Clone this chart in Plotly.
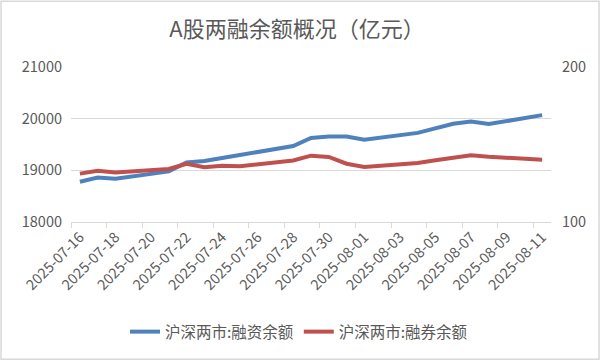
import plotly.graph_objects as go

# ---- data ----
dates = ["2025-07-16", "2025-07-17", "2025-07-18", "2025-07-21", "2025-07-22",
         "2025-07-23", "2025-07-24", "2025-07-25", "2025-07-28", "2025-07-29",
         "2025-07-30", "2025-07-31", "2025-08-01", "2025-08-04", "2025-08-05",
         "2025-08-06", "2025-08-07", "2025-08-08", "2025-08-11"]
financing = [18780, 18860, 18838, 18980, 19150, 19180, 19240, 19300, 19470, 19625,
             19655, 19655, 19592, 19725, 19804, 19900, 19945, 19895, 20068]
securities = [131.2, 133.1, 132.0, 134.2, 137.5, 135.3, 136.3, 136.0, 139.7, 142.8,
              142.0, 137.6, 135.5, 138.0, 139.8, 141.5, 143.0, 142.1, 140.2]
tick_labels = ["2025-07-16", "2025-07-18", "2025-07-20", "2025-07-22", "2025-07-24",
               "2025-07-26", "2025-07-28", "2025-07-30", "2025-08-01", "2025-08-03",
               "2025-08-05", "2025-08-07", "2025-08-09", "2025-08-11"]
left_ticks = [18000, 19000, 20000, 21000]
right_ticks = [100, 200]

FONT = "Noto Sans CJK SC"
GRAY = "#595959"
GRID = "#d9d9d9"

fig = go.Figure()
fig.add_trace(go.Scatter(x=dates, y=financing, name="沪深两市:融资余额", mode="lines",
                         line=dict(color="#4F81BD", width=4)))
fig.add_trace(go.Scatter(x=dates, y=securities, name="沪深两市:融券余额", mode="lines",
                         line=dict(color="#C0504D", width=4), yaxis="y2"))

fig.update_layout(
    width=600, height=361,
    margin=dict(l=71, r=49, t=67, b=139),
    paper_bgcolor="white", plot_bgcolor="white",
    font=dict(family=FONT, color=GRAY, size=14),
    title=dict(text="A股两融余额概况（亿元）", x=0.495, xanchor="center",
               xref="container", y=0.918, yref="container", yanchor="middle",
               font=dict(size=22, color=GRAY, family=FONT)),
    xaxis=dict(type="date", range=["2025-07-15 12:00", "2025-08-11 12:00"],
               tickmode="array", tickvals=tick_labels, ticktext=tick_labels,
               tickangle=-45, ticks="", showgrid=False, showline=True,
               linecolor=GRID, linewidth=1, zeroline=False,
               tickfont=dict(size=14.5, color=GRAY),
               minor=dict(tick0="2025-07-15 12:00", dtick=172800000,
                          ticks="outside", ticklen=5, tickcolor=GRID,
                          tickwidth=1, showgrid=False)),
    yaxis=dict(range=[18000, 21000], tickmode="array", tickvals=left_ticks,
               tickformat="d", showgrid=True, gridcolor=GRID, gridwidth=1,
               zeroline=False, showline=False, ticks="", ticklabelstandoff=8,
               tickfont=dict(size=14.5, color=GRAY)),
    yaxis2=dict(range=[100, 200], tickmode="array", tickvals=right_ticks,
                overlaying="y", side="right", showgrid=False, zeroline=False,
                showline=False, ticks="", ticklabelstandoff=10,
                tickfont=dict(size=14.5, color=GRAY)),
    legend=dict(orientation="h", x=0.475, xanchor="center", y=-0.71,
                yanchor="middle", font=dict(size=15.5, color=GRAY),
                bgcolor="rgba(0,0,0,0)", itemwidth=30, tracegroupgap=0),
    showlegend=True,
    shapes=[dict(type="rect", xref="paper", yref="paper",
                 x0=-0.1458, x1=1.1, y0=-0.885, y1=1.424,
                 line=dict(color=GRID, width=1.5), layer="below")],
)

fig.write_html("out.html", config={"displayModeBar": False},
               post_script="document.body.style.margin='0';")
